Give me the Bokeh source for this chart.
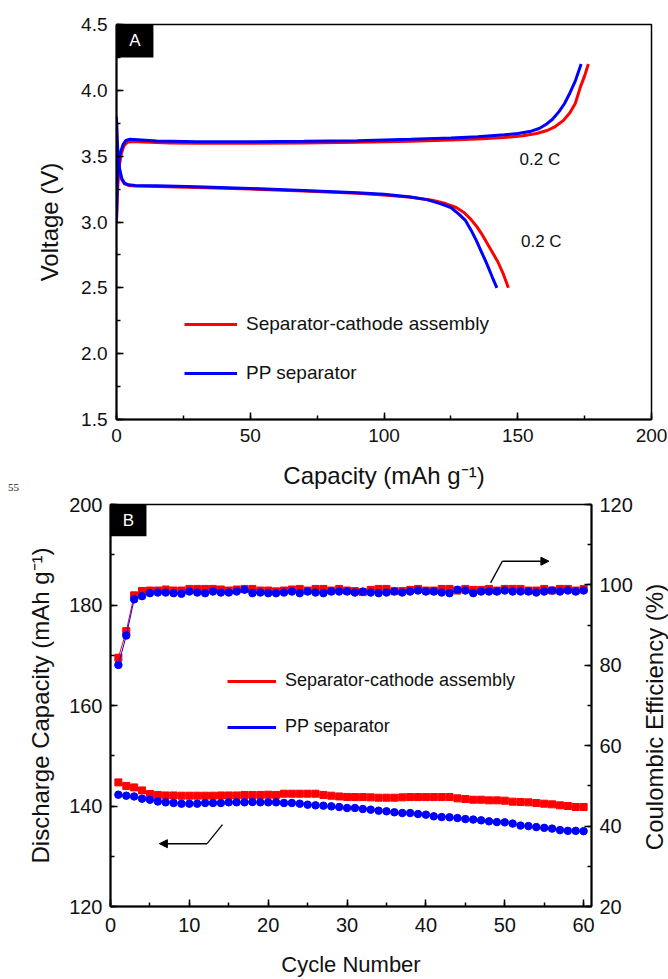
from bokeh.plotting import figure
from bokeh.models import (Range1d, LinearAxis, SingleIntervalTicker, NumeralTickFormatter,
                          Legend, LegendItem, Label, BoxAnnotation, Arrow, NormalHead, Div)
from bokeh.embed import file_html
from bokeh.resources import INLINE

FONT = "Liberation Sans"

# ---------------- Panel A data (capacity mAh/g, voltage V) ----------------
sca_charge_cap = [0, 0.4, 1.0, 1.8, 2.8, 4, 6, 10, 20, 30, 50, 70, 90, 110, 125, 135, 145, 152,
                  157, 161, 164, 167, 169.5, 171.5, 173.5, 175, 176.4]
sca_charge_v = [3.00, 3.25, 3.42, 3.52, 3.58, 3.605, 3.612, 3.608, 3.600, 3.598, 3.598, 3.600,
                3.605, 3.613, 3.622, 3.630, 3.642, 3.655, 3.672, 3.695, 3.725, 3.77, 3.83, 3.90,
                4.03, 4.11, 4.20]
pp_charge_cap = [0, 0.3, 0.8, 1.5, 2.5, 3.5, 5, 8, 15, 30, 50, 70, 90, 110, 125, 135, 145, 150,
                 155, 158, 160.5, 163, 165.5, 167.5, 169.5, 171.5, 173.7]
pp_charge_v = [3.02, 3.30, 3.45, 3.53, 3.59, 3.62, 3.628, 3.625, 3.615, 3.610, 3.610, 3.613,
               3.618, 3.628, 3.638, 3.648, 3.662, 3.672, 3.69, 3.71, 3.74, 3.78, 3.84, 3.90,
               3.98, 4.07, 4.20]
sca_dis_cap = [0, 0.2, 0.6, 1.2, 2, 3, 4.5, 7, 15, 30, 50, 70, 90, 100, 110, 118, 123, 127, 130,
               132.5, 134.5, 136.5, 138.5, 140.5, 142.5, 144.5, 146.5]
sca_dis_v = [3.78, 3.63, 3.48, 3.38, 3.32, 3.29, 3.278, 3.274, 3.27, 3.262, 3.25, 3.235, 3.218,
             3.205, 3.188, 3.165, 3.14, 3.11, 3.07, 3.02, 2.97, 2.91, 2.84, 2.77, 2.70, 2.61, 2.50]
pp_dis_cap = [0, 0.2, 0.6, 1.2, 2.0, 3.0, 4.5, 7, 15, 30, 50, 70, 90, 100, 110, 116, 121, 125,
              128, 130.5, 132.5, 134.5, 136.5, 138.5, 140.5, 142.2]
pp_dis_v = [3.80, 3.65, 3.50, 3.40, 3.33, 3.295, 3.282, 3.278, 3.275, 3.268, 3.255, 3.24, 3.222,
            3.21, 3.19, 3.17, 3.14, 3.11, 3.06, 3.01, 2.94, 2.86, 2.77, 2.68, 2.58, 2.50]

series_names = ["Separator-cathode assembly", "PP separator"]
rate_text = "0.2 C"

# ---------------- Panel B data (cycle number) ----------------
cycles = list(range(1, 61))
cap_sca = [144.7, 144.0, 143.7, 143.1, 142.4, 142.2, 142.1, 142.1, 142.05, 142.05,
           142.05, 142.05, 142.05, 142.1, 142.1, 142.1, 142.2, 142.2, 142.2, 142.25,
           142.2, 142.45, 142.45, 142.45, 142.45, 142.45, 142.2, 142.05, 141.9, 141.8,
           141.78, 141.78, 141.72, 141.65, 141.65, 141.65, 141.72, 141.78, 141.78, 141.78,
           141.78, 141.78, 141.78, 141.52, 141.39, 141.25, 141.25, 141.12, 141.12, 141.06,
           140.86, 140.8, 140.73, 140.59, 140.46, 140.33, 140.13, 140.0, 139.8, 139.8]
cap_pp = [142.25, 142.05, 141.9, 141.45, 141.25, 140.9, 140.73, 140.6, 140.46, 140.46,
          140.46, 140.6, 140.6, 140.6, 140.73, 140.73, 140.73, 140.79, 140.73, 140.73,
          140.73, 140.6, 140.6, 140.46, 140.26, 140.13, 140.07, 139.93, 139.8, 139.6,
          139.6, 139.4, 139.27, 139.07, 138.94, 138.75, 138.6, 138.6, 138.4, 138.28,
          137.95, 137.8, 137.75, 137.6, 137.4, 137.3, 137.15, 136.95, 136.8, 136.75,
          136.5, 136.1, 136.0, 135.8, 135.65, 135.5, 135.2, 135.05, 135.05, 135.0]
ce_sca = [81.9, 88.5, 97.4, 98.5, 98.6, 98.6, 98.85, 98.6, 98.6, 99.0,
          99.0, 99.0, 99.0, 98.85, 98.6, 98.85, 99.0, 99.0, 98.6, 98.6,
          98.4, 98.6, 98.85, 99.0, 98.6, 99.0, 99.0, 98.6, 99.0, 98.6,
          98.45, 98.2, 98.77, 99.0, 99.0, 98.45, 98.45, 98.77, 99.0, 98.6,
          98.6, 99.0, 99.0, 98.6, 99.0, 98.77, 98.77, 99.0, 98.6, 99.0,
          99.0, 99.0, 98.6, 98.6, 99.0, 98.6, 99.0, 99.0, 98.6, 99.0]
ce_pp = [80.1, 87.4, 96.4, 97.2, 97.95, 98.1, 98.1, 97.95, 97.8, 98.35,
         98.1, 97.95, 98.35, 98.1, 98.1, 98.35, 98.8, 97.95, 98.1, 97.95,
         97.95, 98.1, 98.35, 97.95, 98.35, 98.1, 97.95, 98.35, 98.35, 98.35,
         98.1, 98.35, 98.1, 97.95, 98.1, 98.35, 98.1, 98.35, 98.6, 98.35,
         98.35, 98.1, 97.95, 98.8, 98.6, 97.95, 98.35, 98.35, 98.35, 98.6,
         98.35, 98.35, 98.35, 98.1, 98.35, 98.6, 98.35, 98.6, 98.35, 98.6]

RED = "#ff0000"
BLUE = "#0000ff"


def style_axis(ax, tick_size, title_size, label_standoff, title_standoff):
    ax.axis_line_width = 2
    ax.axis_line_color = "black"
    ax.major_tick_in = 7
    ax.major_tick_out = 0
    ax.minor_tick_in = 4
    ax.minor_tick_out = 0
    ax.major_tick_line_width = 1.5
    ax.minor_tick_line_width = 1.5
    ax.major_label_text_font = FONT
    ax.major_label_text_font_size = tick_size
    ax.major_label_text_color = "#111111"
    ax.major_label_standoff = label_standoff
    ax.axis_label_text_font = FONT
    ax.axis_label_text_font_size = title_size
    ax.axis_label_text_font_style = "normal"
    ax.axis_label_text_color = "#111111"
    ax.axis_label_standoff = title_standoff


# ======================= Panel A =======================
pA = figure(width=668, height=495, output_backend="svg", toolbar_location=None,
            x_range=Range1d(0, 200), y_range=Range1d(1.5, 4.5),
            min_border_left=116, min_border_right=17, min_border_top=24, min_border_bottom=76)
pA.grid.visible = False
pA.outline_line_color = "black"
pA.outline_line_width = 1.5
pA.outline_line_alpha = 1
pA.xaxis.ticker = SingleIntervalTicker(interval=50, num_minor_ticks=2)
pA.yaxis.ticker = SingleIntervalTicker(interval=0.5, num_minor_ticks=2)
pA.yaxis.formatter = NumeralTickFormatter(format="0.0")
pA.xaxis.axis_label = "Capacity (mAh g\u207b\u00b9)"
pA.yaxis.axis_label = "Voltage (V)"
style_axis(pA.xaxis[0], "19px", "24px", 9, 17)
style_axis(pA.yaxis[0], "19px", "24px", 9, 15)

rc1 = pA.line(sca_charge_cap, sca_charge_v, line_color=RED, line_width=3)
pA.line(sca_dis_cap, sca_dis_v, line_color=RED, line_width=3)
rc2 = pA.line(pp_charge_cap, pp_charge_v, line_color=BLUE, line_width=3)
pA.line(pp_dis_cap, pp_dis_v, line_color=BLUE, line_width=3)

legA = Legend(items=[LegendItem(label=series_names[0], renderers=[rc1]),
                     LegendItem(label=series_names[1], renderers=[rc2])],
              location=(68, 35), orientation="vertical",
              glyph_width=53, glyph_height=20, label_height=20, spacing=27,
              padding=0, margin=0, label_standoff=9,
              border_line_color=None, background_fill_alpha=0,
              label_text_font=FONT, label_text_font_size="19px", label_text_color="#111111")
pA.add_layout(legA)

pA.add_layout(BoxAnnotation(left=0, right=13.8, top=4.5, bottom=4.25,
                            fill_color="black", fill_alpha=1, line_color=None))
pA.add_layout(Label(x=6.9, y=4.375, text="A", text_align="center", text_baseline="middle",
                    text_color="white", text_font=FONT, text_font_size="17px"))
pA.add_layout(Label(x=150.7, y=3.478, text=rate_text, text_align="left", text_baseline="middle",
                    text_color="#111111", text_font=FONT, text_font_size="17px"))
pA.add_layout(Label(x=151.2, y=2.855, text=rate_text, text_align="left", text_baseline="middle",
                    text_color="#111111", text_font=FONT, text_font_size="17px"))

# ======================= Panel B =======================
pB = figure(width=668, height=484, output_backend="svg", toolbar_location=None,
            x_range=Range1d(0, 61), y_range=Range1d(120, 200),
            min_border_left=110, min_border_right=77, min_border_top=9, min_border_bottom=70)
pB.extra_y_ranges = {"ce": Range1d(20, 120)}
pB.grid.visible = False
pB.outline_line_color = "black"
pB.outline_line_width = 1.5
pB.outline_line_alpha = 1
pB.xaxis.ticker = SingleIntervalTicker(interval=10, num_minor_ticks=2)
pB.yaxis.ticker = SingleIntervalTicker(interval=20, num_minor_ticks=2)
pB.xaxis.axis_label = "Cycle Number"
pB.yaxis.axis_label = "Discharge Capacity (mAh g\u207b\u00b9)"
style_axis(pB.xaxis[0], "20px", "22px", 11, 17)
style_axis(pB.yaxis[0], "20px", "24px", 8, 12)

axR = LinearAxis(y_range_name="ce", ticker=SingleIntervalTicker(interval=20, num_minor_ticks=2))
style_axis(axR, "20px", "24px", 8, 12)
pB.add_layout(axR, "right")

pB.line(cycles, cap_sca, line_color=RED, line_width=1)
pB.scatter(cycles, cap_sca, marker="square", size=7, color=RED)
pB.line(cycles, ce_sca, line_color=RED, line_width=1, y_range_name="ce")
pB.scatter(cycles, ce_sca, marker="square", size=7, color=RED, y_range_name="ce")
pB.line(cycles, cap_pp, line_color=BLUE, line_width=1)
pB.scatter(cycles, cap_pp, marker="circle", size=7.5, color=BLUE)
pB.line(cycles, ce_pp, line_color=BLUE, line_width=1, y_range_name="ce")
pB.scatter(cycles, ce_pp, marker="circle", size=7.5, color=BLUE, y_range_name="ce")

lr = pB.line(x=cycles[:1], y=cap_sca[:1], line_color=RED, line_width=3)
lb = pB.line(x=cycles[:1], y=cap_pp[:1], line_color=BLUE, line_width=3)
legB = Legend(items=[LegendItem(label=series_names[0], renderers=[lr]),
                     LegendItem(label=series_names[1], renderers=[lb])],
              location=(117, 169), orientation="vertical",
              glyph_width=49, glyph_height=20, label_height=20, spacing=25,
              padding=0, margin=0, label_standoff=9,
              border_line_color=None, background_fill_alpha=0,
              label_text_font=FONT, label_text_font_size="18px", label_text_color="#111111")
pB.add_layout(legB)

pB.line(x=[48.2, 49.7], y=[100.5, 105.9], y_range_name="ce", line_color="black", line_width=1.3)
pB.add_layout(Arrow(end=NormalHead(size=8, fill_color="black", line_color="black"),
                    x_start=49.7, y_start=105.9, x_end=55.6, y_end=105.9,
                    y_range_name="ce", line_color="black", line_width=1.5))
pB.line(x=[14.2, 12.25], y=[136.3, 132.5], line_color="black", line_width=1.3)
pB.add_layout(Arrow(end=NormalHead(size=8, fill_color="black", line_color="black"),
                    x_start=12.25, y_start=132.5, x_end=6.2, y_end=132.5,
                    line_color="black", line_width=1.5))

pB.add_layout(BoxAnnotation(left=0, right=4.56, top=200, bottom=193.66,
                            fill_color="black", fill_alpha=1, line_color=None))
pB.add_layout(Label(x=2.28, y=196.83, text="B", text_align="center", text_baseline="middle",
                    text_color="white", text_font=FONT, text_font_size="17px"))

# right-axis title, reading bottom-to-top as in the reference
ce_title = Div(text="Coulombic Efficiency (%)", width=290, height=24,
               styles={"position": "absolute", "left": "505px", "top": "700px",
                       "transform": "rotate(-90deg)", "transform-origin": "50% 50%",
                       "font-family": FONT, "font-size": "24px", "line-height": "24px",
                       "text-align": "center", "white-space": "nowrap", "color": "#111111"})

# stray page number printed on the source page
page_no = Div(text="55", styles={"position": "absolute", "left": "3px", "top": "475px",
                                 "font-family": "Liberation Serif", "font-size": "11px",
                                 "color": "#222222"})

open("out.html", "w").write(file_html([pA, pB, ce_title, page_no], INLINE))
